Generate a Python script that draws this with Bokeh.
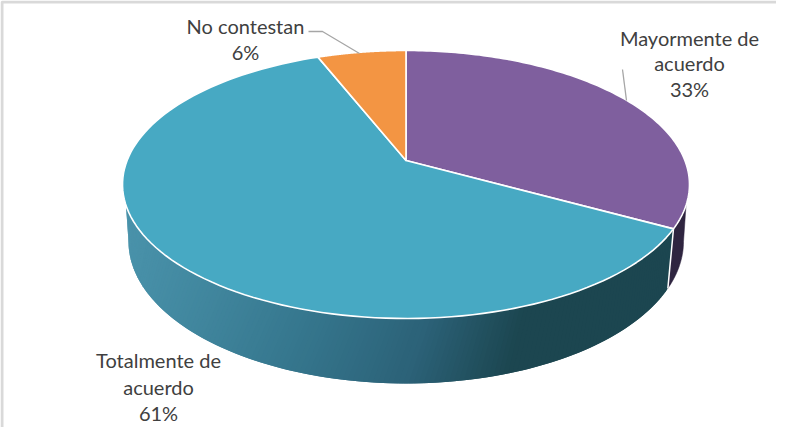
import numpy as np
from bokeh.plotting import figure
from bokeh.embed import file_html
from bokeh.resources import INLINE
from bokeh.core.properties import value

categories = ["Mayormente de\nacuerdo", "Totalmente de\nacuerdo", "No contestan"]
values = [33, 61, 6]
top_colors = ["#7f5f9e", "#47a9c3", "#f39543"]
side_dark_purple = "#2f2540"

# projection of the pie's disc (picture pixels)
CX, CY, RX, RY, K = 405.5, 160.0, 278.9, 129.7, 0.179
SX, SY, BY = 0.979, 1.06, 215.5


def rim(deg, bottom=False):
    t = np.radians(np.asarray(deg, dtype=float))
    X, Y = np.sin(t), np.cos(t)
    d = 1 + K * Y
    if bottom:
        return CX + SX * RX * X / d, BY - SY * RY * Y / d
    return CX + RX * X / d, CY - RY * Y / d


edges = np.concatenate([[0], np.cumsum(values)]) * 360.0 / sum(values)

p = figure(width=776, height=427, x_range=(0, 776), y_range=(427, 0),
           output_backend="svg", toolbar_location=None, min_border=0,
           outline_line_color=None, background_fill_color="white")
p.axis.visible = False
p.grid.visible = False

# frame of the picture
p.line([1.5, 1.5, 776], [427, 1.5, 1.5], line_color="#d9d9d9", line_width=3)

# purple side wall
a0, a1 = edges[1], 109.0
b1 = 100.3
xt, yt = rim(np.linspace(a1, a0, 30))
xb, yb = rim(np.linspace(a0, b1, 30), True)
p.patch(np.r_[xt, xb], np.r_[yt, yb], fill_color=side_dark_purple, line_color=side_dark_purple, line_width=0.5)

# teal side wall with a horizontal shade
n = 160
ft = np.linspace(edges[1], 360 - 109.0, n + 1)
fb = np.linspace(edges[1], 360 - 100.3, n + 1)
xt, yt = rim(ft)
xb, yb = rim(fb, True)
shade_x = [125, 300, 420, 520, 680]
shade_r = [0x4a, 0x36, 0x2c, 0x1c, 0x1c]
shade_g = [0x93, 0x77, 0x62, 0x46, 0x46]
shade_b = [0xab, 0x8e, 0x78, 0x50, 0x50]
xs, ys, cs = [], [], []
for i in range(n):
    j = min(i + 2, n)  # each strip overlaps the next, which hides the seams
    xs.append([xt[i], xt[j], xb[j], xb[i]])
    ys.append([yt[i], yt[j], yb[j], yb[i]])
    m = (xt[i] + xb[i]) / 2
    cs.append("#%02x%02x%02x" % (int(np.interp(m, shade_x, shade_r)),
                                 int(np.interp(m, shade_x, shade_g)),
                                 int(np.interp(m, shade_x, shade_b))))
p.patches(xs, ys, fill_color=cs, line_color=None)

# white line between the two side walls
xa, ya = rim(edges[1])
xc, yc = rim(edges[1], True)
p.line([xa, xc], [ya, yc], line_color="white", line_width=1.5)

# top faces
for i, c in enumerate(top_colors):
    ang = np.linspace(edges[i], edges[i + 1], 120)
    x, y = rim(ang)
    p.patch(np.r_[CX, x], np.r_[CY, y], fill_color=c, line_color="white", line_width=1.6, line_join="round")

# leader lines
p.line([308, 322, 359], [31, 31, 53], line_color="#a6a6a6", line_width=1.3)
p.line([622, 626], [69, 100], line_color="#a6a6a6", line_width=1.3)

# labels
label_pos = [(689, [37, 62, 88]), (158, [359, 386, 412]), (245, [25, 51])]
for cat, val, (lx, lys) in zip(categories, values, label_pos):
    lines = cat.split("\n") + [f"{val}%"]
    p.text([lx] * len(lines), lys, text=lines, text_font=value("Lato"), text_font_size="20px",
           text_color="#404040", text_align="center", text_baseline="middle")

open("out.html", "w").write(file_html(p, INLINE))
